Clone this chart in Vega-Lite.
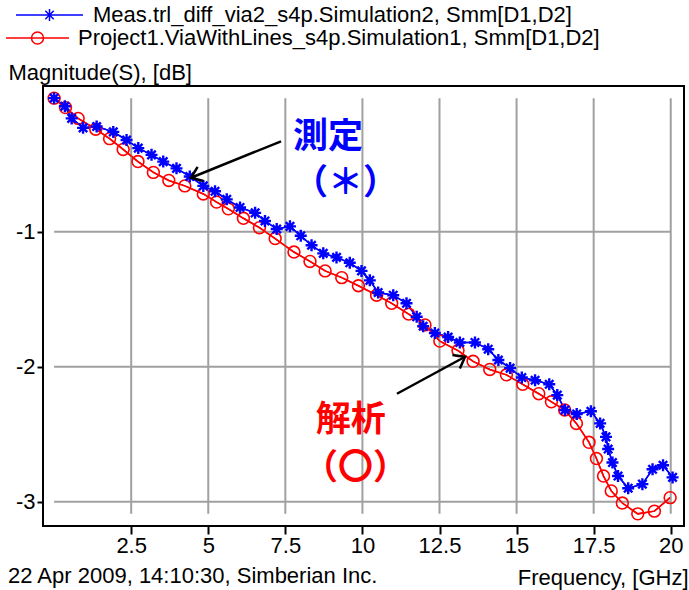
{
  "$schema": "https://vega.github.io/schema/vega-lite/v6.json",
  "width": 641,
  "height": 440,
  "autosize": {"type": "none"},
  "padding": {"left": 43, "top": 86, "right": 5, "bottom": 64},
  "background": "white",
  "config": {
    "font": "Liberation Sans",
    "view": {"stroke": "black", "strokeWidth": 2},
    "axis": {
      "labelFont": "Liberation Sans", "labelFontSize": 22, "labelColor": "black",
      "titleFont": "Liberation Sans", "titleFontSize": 22, "titleFontWeight": "normal", "titleColor": "black",
      "tickColor": "black", "tickWidth": 2, "domain": false, "grid": false
    }
  },
  "title": {
    "text": "22 Apr 2009, 14:10:30, Simberian Inc.",
    "orient": "bottom", "anchor": "start", "frame": "group",
    "font": "Liberation Sans", "fontSize": 22, "fontWeight": "normal", "color": "black",
    "dx": -35, "offset": 0, "dy": -22
  },
  "datasets": {
    "curves": [
      {"series": "Meas.trl_diff_via2_s4p.Simulation2, Smm[D1,D2]", "f": 0, "v": -0.01},
      {"series": "Meas.trl_diff_via2_s4p.Simulation2, Smm[D1,D2]", "f": 0.35, "v": -0.07},
      {"series": "Meas.trl_diff_via2_s4p.Simulation2, Smm[D1,D2]", "f": 0.57, "v": -0.16},
      {"series": "Meas.trl_diff_via2_s4p.Simulation2, Smm[D1,D2]", "f": 0.94, "v": -0.23},
      {"series": "Meas.trl_diff_via2_s4p.Simulation2, Smm[D1,D2]", "f": 1.38, "v": -0.22},
      {"series": "Meas.trl_diff_via2_s4p.Simulation2, Smm[D1,D2]", "f": 1.92, "v": -0.26},
      {"series": "Meas.trl_diff_via2_s4p.Simulation2, Smm[D1,D2]", "f": 2.35, "v": -0.32},
      {"series": "Meas.trl_diff_via2_s4p.Simulation2, Smm[D1,D2]", "f": 2.73, "v": -0.38},
      {"series": "Meas.trl_diff_via2_s4p.Simulation2, Smm[D1,D2]", "f": 3.16, "v": -0.43},
      {"series": "Meas.trl_diff_via2_s4p.Simulation2, Smm[D1,D2]", "f": 3.54, "v": -0.48},
      {"series": "Meas.trl_diff_via2_s4p.Simulation2, Smm[D1,D2]", "f": 3.97, "v": -0.53},
      {"series": "Meas.trl_diff_via2_s4p.Simulation2, Smm[D1,D2]", "f": 4.4, "v": -0.59},
      {"series": "Meas.trl_diff_via2_s4p.Simulation2, Smm[D1,D2]", "f": 4.84, "v": -0.66},
      {"series": "Meas.trl_diff_via2_s4p.Simulation2, Smm[D1,D2]", "f": 5.22, "v": -0.70},
      {"series": "Meas.trl_diff_via2_s4p.Simulation2, Smm[D1,D2]", "f": 5.6, "v": -0.76},
      {"series": "Meas.trl_diff_via2_s4p.Simulation2, Smm[D1,D2]", "f": 6.03, "v": -0.82},
      {"series": "Meas.trl_diff_via2_s4p.Simulation2, Smm[D1,D2]", "f": 6.52, "v": -0.86},
      {"series": "Meas.trl_diff_via2_s4p.Simulation2, Smm[D1,D2]", "f": 6.84, "v": -0.92},
      {"series": "Meas.trl_diff_via2_s4p.Simulation2, Smm[D1,D2]", "f": 7.22, "v": -0.98},
      {"series": "Meas.trl_diff_via2_s4p.Simulation2, Smm[D1,D2]", "f": 7.65, "v": -0.96},
      {"series": "Meas.trl_diff_via2_s4p.Simulation2, Smm[D1,D2]", "f": 8.0, "v": -1.03},
      {"series": "Meas.trl_diff_via2_s4p.Simulation2, Smm[D1,D2]", "f": 8.35, "v": -1.10},
      {"series": "Meas.trl_diff_via2_s4p.Simulation2, Smm[D1,D2]", "f": 8.73, "v": -1.16},
      {"series": "Meas.trl_diff_via2_s4p.Simulation2, Smm[D1,D2]", "f": 9.16, "v": -1.19},
      {"series": "Meas.trl_diff_via2_s4p.Simulation2, Smm[D1,D2]", "f": 9.59, "v": -1.23},
      {"series": "Meas.trl_diff_via2_s4p.Simulation2, Smm[D1,D2]", "f": 9.97, "v": -1.29},
      {"series": "Meas.trl_diff_via2_s4p.Simulation2, Smm[D1,D2]", "f": 10.24, "v": -1.36},
      {"series": "Meas.trl_diff_via2_s4p.Simulation2, Smm[D1,D2]", "f": 10.51, "v": -1.45},
      {"series": "Meas.trl_diff_via2_s4p.Simulation2, Smm[D1,D2]", "f": 11.0, "v": -1.47},
      {"series": "Meas.trl_diff_via2_s4p.Simulation2, Smm[D1,D2]", "f": 11.43, "v": -1.53},
      {"series": "Meas.trl_diff_via2_s4p.Simulation2, Smm[D1,D2]", "f": 11.76, "v": -1.63},
      {"series": "Meas.trl_diff_via2_s4p.Simulation2, Smm[D1,D2]", "f": 11.97, "v": -1.70},
      {"series": "Meas.trl_diff_via2_s4p.Simulation2, Smm[D1,D2]", "f": 12.35, "v": -1.75},
      {"series": "Meas.trl_diff_via2_s4p.Simulation2, Smm[D1,D2]", "f": 12.78, "v": -1.78},
      {"series": "Meas.trl_diff_via2_s4p.Simulation2, Smm[D1,D2]", "f": 13.16, "v": -1.82},
      {"series": "Meas.trl_diff_via2_s4p.Simulation2, Smm[D1,D2]", "f": 13.65, "v": -1.82},
      {"series": "Meas.trl_diff_via2_s4p.Simulation2, Smm[D1,D2]", "f": 14.08, "v": -1.87},
      {"series": "Meas.trl_diff_via2_s4p.Simulation2, Smm[D1,D2]", "f": 14.41, "v": -1.95},
      {"series": "Meas.trl_diff_via2_s4p.Simulation2, Smm[D1,D2]", "f": 14.79, "v": -2.01},
      {"series": "Meas.trl_diff_via2_s4p.Simulation2, Smm[D1,D2]", "f": 15.17, "v": -2.08},
      {"series": "Meas.trl_diff_via2_s4p.Simulation2, Smm[D1,D2]", "f": 15.6, "v": -2.10},
      {"series": "Meas.trl_diff_via2_s4p.Simulation2, Smm[D1,D2]", "f": 16.06, "v": -2.13},
      {"series": "Meas.trl_diff_via2_s4p.Simulation2, Smm[D1,D2]", "f": 16.32, "v": -2.21},
      {"series": "Meas.trl_diff_via2_s4p.Simulation2, Smm[D1,D2]", "f": 16.57, "v": -2.32},
      {"series": "Meas.trl_diff_via2_s4p.Simulation2, Smm[D1,D2]", "f": 16.95, "v": -2.35},
      {"series": "Meas.trl_diff_via2_s4p.Simulation2, Smm[D1,D2]", "f": 17.41, "v": -2.33},
      {"series": "Meas.trl_diff_via2_s4p.Simulation2, Smm[D1,D2]", "f": 17.71, "v": -2.42},
      {"series": "Meas.trl_diff_via2_s4p.Simulation2, Smm[D1,D2]", "f": 17.9, "v": -2.52},
      {"series": "Meas.trl_diff_via2_s4p.Simulation2, Smm[D1,D2]", "f": 17.97, "v": -2.61},
      {"series": "Meas.trl_diff_via2_s4p.Simulation2, Smm[D1,D2]", "f": 18.11, "v": -2.71},
      {"series": "Meas.trl_diff_via2_s4p.Simulation2, Smm[D1,D2]", "f": 18.29, "v": -2.81},
      {"series": "Meas.trl_diff_via2_s4p.Simulation2, Smm[D1,D2]", "f": 18.62, "v": -2.90},
      {"series": "Meas.trl_diff_via2_s4p.Simulation2, Smm[D1,D2]", "f": 19.08, "v": -2.87},
      {"series": "Meas.trl_diff_via2_s4p.Simulation2, Smm[D1,D2]", "f": 19.41, "v": -2.76},
      {"series": "Meas.trl_diff_via2_s4p.Simulation2, Smm[D1,D2]", "f": 19.75, "v": -2.73},
      {"series": "Meas.trl_diff_via2_s4p.Simulation2, Smm[D1,D2]", "f": 20.06, "v": -2.82},
      {"series": "Project1.ViaWithLines_s4p.Simulation1, Smm[D1,D2]", "f": 0, "v": -0.01},
      {"series": "Project1.ViaWithLines_s4p.Simulation1, Smm[D1,D2]", "f": 0.37, "v": -0.08},
      {"series": "Project1.ViaWithLines_s4p.Simulation1, Smm[D1,D2]", "f": 0.78, "v": -0.16},
      {"series": "Project1.ViaWithLines_s4p.Simulation1, Smm[D1,D2]", "f": 1.35, "v": -0.24},
      {"series": "Project1.ViaWithLines_s4p.Simulation1, Smm[D1,D2]", "f": 1.8, "v": -0.31},
      {"series": "Project1.ViaWithLines_s4p.Simulation1, Smm[D1,D2]", "f": 2.24, "v": -0.39},
      {"series": "Project1.ViaWithLines_s4p.Simulation1, Smm[D1,D2]", "f": 2.72, "v": -0.48},
      {"series": "Project1.ViaWithLines_s4p.Simulation1, Smm[D1,D2]", "f": 3.22, "v": -0.56},
      {"series": "Project1.ViaWithLines_s4p.Simulation1, Smm[D1,D2]", "f": 3.72, "v": -0.62},
      {"series": "Project1.ViaWithLines_s4p.Simulation1, Smm[D1,D2]", "f": 4.24, "v": -0.66},
      {"series": "Project1.ViaWithLines_s4p.Simulation1, Smm[D1,D2]", "f": 4.84, "v": -0.72},
      {"series": "Project1.ViaWithLines_s4p.Simulation1, Smm[D1,D2]", "f": 5.27, "v": -0.78},
      {"series": "Project1.ViaWithLines_s4p.Simulation1, Smm[D1,D2]", "f": 5.65, "v": -0.83},
      {"series": "Project1.ViaWithLines_s4p.Simulation1, Smm[D1,D2]", "f": 6.14, "v": -0.90},
      {"series": "Project1.ViaWithLines_s4p.Simulation1, Smm[D1,D2]", "f": 6.66, "v": -0.97},
      {"series": "Project1.ViaWithLines_s4p.Simulation1, Smm[D1,D2]", "f": 7.17, "v": -1.05},
      {"series": "Project1.ViaWithLines_s4p.Simulation1, Smm[D1,D2]", "f": 7.78, "v": -1.15},
      {"series": "Project1.ViaWithLines_s4p.Simulation1, Smm[D1,D2]", "f": 8.3, "v": -1.22},
      {"series": "Project1.ViaWithLines_s4p.Simulation1, Smm[D1,D2]", "f": 8.79, "v": -1.29},
      {"series": "Project1.ViaWithLines_s4p.Simulation1, Smm[D1,D2]", "f": 9.33, "v": -1.34},
      {"series": "Project1.ViaWithLines_s4p.Simulation1, Smm[D1,D2]", "f": 9.87, "v": -1.40},
      {"series": "Project1.ViaWithLines_s4p.Simulation1, Smm[D1,D2]", "f": 10.46, "v": -1.47},
      {"series": "Project1.ViaWithLines_s4p.Simulation1, Smm[D1,D2]", "f": 10.95, "v": -1.53},
      {"series": "Project1.ViaWithLines_s4p.Simulation1, Smm[D1,D2]", "f": 11.5, "v": -1.61},
      {"series": "Project1.ViaWithLines_s4p.Simulation1, Smm[D1,D2]", "f": 12.03, "v": -1.69},
      {"series": "Project1.ViaWithLines_s4p.Simulation1, Smm[D1,D2]", "f": 12.51, "v": -1.81},
      {"series": "Project1.ViaWithLines_s4p.Simulation1, Smm[D1,D2]", "f": 13.1, "v": -1.88},
      {"series": "Project1.ViaWithLines_s4p.Simulation1, Smm[D1,D2]", "f": 13.59, "v": -1.96},
      {"series": "Project1.ViaWithLines_s4p.Simulation1, Smm[D1,D2]", "f": 14.13, "v": -2.02},
      {"series": "Project1.ViaWithLines_s4p.Simulation1, Smm[D1,D2]", "f": 14.67, "v": -2.06},
      {"series": "Project1.ViaWithLines_s4p.Simulation1, Smm[D1,D2]", "f": 15.2, "v": -2.13},
      {"series": "Project1.ViaWithLines_s4p.Simulation1, Smm[D1,D2]", "f": 15.72, "v": -2.20},
      {"series": "Project1.ViaWithLines_s4p.Simulation1, Smm[D1,D2]", "f": 16.13, "v": -2.26},
      {"series": "Project1.ViaWithLines_s4p.Simulation1, Smm[D1,D2]", "f": 16.56, "v": -2.32},
      {"series": "Project1.ViaWithLines_s4p.Simulation1, Smm[D1,D2]", "f": 16.94, "v": -2.42},
      {"series": "Project1.ViaWithLines_s4p.Simulation1, Smm[D1,D2]", "f": 17.35, "v": -2.56},
      {"series": "Project1.ViaWithLines_s4p.Simulation1, Smm[D1,D2]", "f": 17.59, "v": -2.68},
      {"series": "Project1.ViaWithLines_s4p.Simulation1, Smm[D1,D2]", "f": 17.82, "v": -2.81},
      {"series": "Project1.ViaWithLines_s4p.Simulation1, Smm[D1,D2]", "f": 18.07, "v": -2.92},
      {"series": "Project1.ViaWithLines_s4p.Simulation1, Smm[D1,D2]", "f": 18.43, "v": -3.01},
      {"series": "Project1.ViaWithLines_s4p.Simulation1, Smm[D1,D2]", "f": 18.93, "v": -3.09},
      {"series": "Project1.ViaWithLines_s4p.Simulation1, Smm[D1,D2]", "f": 19.47, "v": -3.07},
      {"series": "Project1.ViaWithLines_s4p.Simulation1, Smm[D1,D2]", "f": 19.98, "v": -2.97}
    ],
    "vgrid": [{"gx": 2.5}, {"gx": 5}, {"gx": 7.5}, {"gx": 10}, {"gx": 12.5}, {"gx": 15}, {"gx": 17.5}, {"gx": 20}],
    "hgrid": [{"gy": -1}, {"gy": -2}, {"gy": -3}],
    "arrows": [
      {"id": "meas", "f": 7.36, "v": -0.33, "f2": 4.44, "v2": -0.60},
      {"id": "sim", "f": 11.12, "v": -2.20, "f2": 13.33, "v2": -1.926}
    ],
    "notes": [
      {"id": "meas", "text": "測定", "f": 7.75, "v": -0.296},
      {"id": "meas", "text": "（＊）", "f": 7.75, "v": -0.637},
      {"id": "sim", "text": "解析", "f": 8.49, "v": -2.393},
      {"id": "sim", "text": "（〇）", "f": 8.07, "v": -2.748}
    ]
  },
  "layer": [
    {
      "data": {"name": "curves"},
      "mark": {"type": "line", "strokeWidth": 1.5},
      "encoding": {
        "x": {"field": "f", "type": "quantitative",
          "scale": {"domain": [-0.36, 20.43], "nice": false, "zero": false},
          "axis": {"values": [2.5, 5, 7.5, 10, 12.5, 15, 17.5, 20], "labelExpr": "'' + datum.value", "tickSize": 8, "labelPadding": 1,
            "title": "Frequency, [GHz]", "titleX": 645, "titleY": 51, "titleAlign": "right", "titleBaseline": "middle", "titleAngle": 0}},
        "y": {"field": "v", "type": "quantitative",
          "scale": {"domain": [-3.18, 0.08], "nice": false, "zero": false},
          "axis": {"values": [-1, -2, -3], "labelExpr": "'' + datum.value", "tickSize": 6, "labelPadding": 2,
            "title": "Magnitude(S), [dB]", "titleX": -35, "titleY": -14, "titleAlign": "left", "titleBaseline": "middle", "titleAngle": 0}},
        "color": {"field": "series", "type": "nominal",
          "scale": {"domain": ["Meas.trl_diff_via2_s4p.Simulation2, Smm[D1,D2]", "Project1.ViaWithLines_s4p.Simulation1, Smm[D1,D2]"], "range": ["#0000ff", "#ff0000"]},
          "legend": {
            "orient": "none", "legendX": -10.5, "legendY": -82, "direction": "vertical", "title": null,
            "padding": 0, "symbolSize": 400, "symbolStrokeWidth": 1.5, "labelFont": "Liberation Sans", "labelFontSize": 22,
            "labelColor": "black", "labelOffset": 38.5, "rowPadding": 1, "labelLimit": 700,
            "encode": {
              "symbols": {"update": {
                "shape": {"signal": "indexof(datum.value, 'Meas') === 0 ? 'M-2.75,0L3.95,0M0.6,-0.6L0.6,0.6M0,0L1.2,0M0.18,-0.42L1.02,0.42M0.18,0.42L1.02,-0.42' : 'M-3.75,0L2.55,0M-1.2,0A0.6,0.6 0 1,1 0,0A0.6,0.6 0 1,1 -1.2,0'"},
                "fill": {"value": "transparent"},
                "stroke": {"signal": "indexof(datum.value, 'Meas') === 0 ? '#0000ff' : '#ff0000'"},
                "strokeWidth": {"value": 1.5}
              }},
              "labels": {"update": {"dx": {"signal": "indexof(datum.value, 'Meas') === 0 ? 0 : -15"}}}
            }
          }
        }
      }
    },
    {
      "data": {"name": "vgrid"},
      "mark": {"type": "rule", "color": "#a0a0a0", "strokeWidth": 2},
      "encoding": {
        "x": {"field": "gx", "type": "quantitative"},
        "y": {"datum": -0.01, "type": "quantitative"},
        "y2": {"datum": -3.09}
      }
    },
    {
      "data": {"name": "hgrid"},
      "mark": {"type": "rule", "color": "#a0a0a0", "strokeWidth": 2},
      "encoding": {
        "y": {"field": "gy", "type": "quantitative"},
        "x": {"datum": 0, "type": "quantitative"},
        "x2": {"datum": 20}
      }
    },
    {
      "data": {"name": "curves"},
      "mark": {"type": "line", "strokeWidth": 1.5},
      "encoding": {
        "x": {"field": "f", "type": "quantitative"},
        "y": {"field": "v", "type": "quantitative"},
        "color": {"field": "series", "type": "nominal"}
      }
    },
    {
      "data": {"name": "curves"},
      "transform": [{"filter": "indexof(datum.series, 'Project1') === 0"}],
      "mark": {"type": "point", "shape": "circle", "size": 140, "filled": false, "color": "#ff0000", "strokeWidth": 1.6, "opacity": 1},
      "encoding": {
        "x": {"field": "f", "type": "quantitative"},
        "y": {"field": "v", "type": "quantitative"}
      }
    },
    {
      "data": {"name": "curves"},
      "transform": [{"filter": "indexof(datum.series, 'Meas') === 0"}],
      "mark": {"type": "point", "shape": "M-1,0L1,0M0,-1L0,1M-0.7,-0.7L0.7,0.7M-0.7,0.7L0.7,-0.7", "size": 144, "filled": false, "color": "#0000ff", "strokeWidth": 2.4, "opacity": 1},
      "encoding": {
        "x": {"field": "f", "type": "quantitative"},
        "y": {"field": "v", "type": "quantitative"}
      }
    },
    {
      "data": {"name": "arrows"},
      "mark": {"type": "rule", "color": "black", "strokeWidth": 2.5},
      "encoding": {
        "x": {"field": "f", "type": "quantitative"},
        "y": {"field": "v", "type": "quantitative"},
        "x2": {"field": "f2"},
        "y2": {"field": "v2"}
      }
    },
    {
      "data": {"name": "arrows"},
      "transform": [{"filter": "datum.id === 'meas'"}],
      "mark": {"type": "point", "shape": "M-1,-0.75L0,0L-1,0.75", "size": 420, "filled": false, "color": "black", "strokeWidth": 2.5, "opacity": 1, "angle": 158},
      "encoding": {
        "x": {"field": "f2", "type": "quantitative"},
        "y": {"field": "v2", "type": "quantitative"}
      }
    },
    {
      "data": {"name": "arrows"},
      "transform": [{"filter": "datum.id === 'sim'"}],
      "mark": {"type": "point", "shape": "M-1,-0.75L0,0L-1,0.75", "size": 420, "filled": false, "color": "black", "strokeWidth": 2.5, "opacity": 1, "angle": 331},
      "encoding": {
        "x": {"field": "f2", "type": "quantitative"},
        "y": {"field": "v2", "type": "quantitative"}
      }
    },
    {
      "data": {"name": "notes"},
      "transform": [{"filter": "datum.id === 'meas'"}],
      "mark": {"type": "text", "font": "Noto Sans CJK JP", "fontSize": 35, "fontWeight": "bold", "color": "#0000ff", "align": "left", "baseline": "middle"},
      "encoding": {
        "x": {"field": "f", "type": "quantitative"},
        "y": {"field": "v", "type": "quantitative"},
        "text": {"field": "text"}
      }
    },
    {
      "data": {"name": "notes"},
      "transform": [{"filter": "datum.id === 'sim'"}],
      "mark": {"type": "text", "font": "Noto Sans CJK JP", "fontSize": 35, "fontWeight": "bold", "color": "#ff0000", "align": "left", "baseline": "middle"},
      "encoding": {
        "x": {"field": "f", "type": "quantitative"},
        "y": {"field": "v", "type": "quantitative"},
        "text": {"field": "text"}
      }
    }
  ]
}
